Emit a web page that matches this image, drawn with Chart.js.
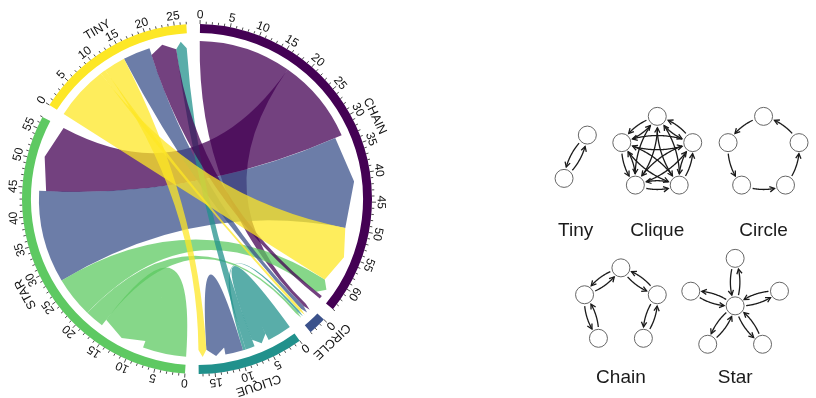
<!DOCTYPE html>
<html>
<head>
<meta charset="utf-8">
<script src="https://cdn.jsdelivr.net/npm/chart.js@4.4.1/dist/chart.umd.min.js"></script>
<style>
  html, body { margin: 0; padding: 0; background: #fff; }
  #wrap { position: relative; width: 816px; height: 398px; }
  #chord { position: absolute; left: 0; top: 0; }
  #graphs { position: absolute; left: 520px; top: 0; }
</style>
</head>
<body>
<div id="wrap">
  <canvas id="chord" width="394" height="398"></canvas>
  <canvas id="graphs" width="296" height="398"></canvas>
</div>
<script>
// chord groups
const groupNames = ['CHAIN', 'CIRCLE', 'CLIQUE', 'STAR', 'TINY'];
const groupTotals = [64, 3, 17.7, 57, 27];
const groupGap = 2.25;
const tickLabels = [
  [0, 5, 10, 15, 20, 25, 30, 35, 40, 45, 50, 55, 60],
  [0],
  [0, 5, 10, 15],
  [0, 5, 10, 15, 20, 25, 30, 35, 40, 45, 50, 55],
  [0, 5, 10, 15, 20, 25]
];

// ribbons: [group, from, to] at the flat end, [group, from, to] at the arrow end, colour index
const ribbonSource = [
  [0, 0, 17], [0, 17, 32.6], [3, 27.5, 44.5], [3, 0, 8], [3, 16.5, 20], [3, 20, 27.5],
  [2, 9.5, 12.8], [2, 0, 4.5], [4, 15, 20], [2, 7.3, 9], [0, 63.4, 64],
  [4, 0, 10], [4, 11, 15], [4, 10, 11], [2, 9, 9.5]
];
const ribbonTarget = [
  [1, 0.2, 0.8], [3, 44.5, 57], [0, 32.6, 50], [3, 8, 16.5], [1, 2.4, 2.8], [0, 60.6, 63.4],
  [2, 12.8, 16.2], [2, 4.5, 7.3], [1, 0.8, 1.5], [4, 24.8, 26.8], [4, 20, 24.8],
  [0, 50, 60.6], [2, 16.2, 17.7], [1, 1.5, 2], [1, 2, 2.4]
];
const ribbonHue = [0, 0, 1, 3, 3, 3, 1, 2, 1, 2, 0, 4, 4, 4, 2];

// small graphs on the right
const graphLabels = ['Tiny', 'Clique', 'Circle', 'Chain', 'Star'];
const graphNodeCount = [2, 5, 5, 5, 6];
const tinyEdges = [[0, 1], [1, 0]];
const cliqueEdges = [
  [0, 1], [0, 2], [0, 3], [0, 4], [1, 0], [1, 2], [1, 3], [1, 4], [2, 0], [2, 1],
  [2, 3], [2, 4], [3, 0], [3, 1], [3, 2], [3, 4], [4, 0], [4, 1], [4, 2], [4, 3]
];
const circleEdges = [[0, 4], [4, 3], [3, 2], [2, 1], [1, 0]];
const chainEdges = [[0, 4], [4, 0], [4, 3], [3, 4], [0, 1], [1, 0], [1, 2], [2, 1]];
const starEdges = [[0, 1], [1, 0], [0, 2], [2, 0], [0, 3], [3, 0], [0, 4], [4, 0], [0, 5], [5, 0]];
const graphEdges = [tinyEdges, cliqueEdges, circleEdges, chainEdges, starEdges];

const viridis = ['#440154', '#3b528b', '#21918c', '#5ec962', '#fde725'];
const ribbonFill = ['rgba(68,1,84,0.75)', 'rgba(59,82,139,0.75)', 'rgba(33,145,140,0.75)',
  'rgba(94,201,98,0.75)', 'rgba(253,231,37,0.75)'];

// layout of the small graphs, page pixels
const graphLayout = [
  { cx: 569, cy: 154.5, r: 26, turn: 28.7 },
  { cx: 656.5, cy: 152, r: 40, turn: 0 },
  { cx: 770.5, cy: 152, r: 40, turn: 0 },
  { cx: 617.5, cy: 312.5, r: 41, turn: 0 },
  { cx: 740, cy: 311.5, r: 50, turn: 0, hub: true }
];
const graphLabelY = [232, 232, 232, 387, 387];

// doughnut data: each group followed by a blank gap
const ringValues = [];
const ringColors = [];
groupTotals.forEach((v, i) => {
  ringValues.push(v, groupGap);
  ringColors.push(viridis[i], 'rgba(0,0,0,0)');
});

const chordPlugin = {
  id: 'chordRibbons',
  afterDatasetsDraw(chart) {
    const ctx = chart.ctx;
    const arcs = chart.getDatasetMeta(0).data;
    const cx = arcs[0].x, cy = arcs[0].y;
    const outer = arcs[0].outerRadius;
    const R = arcs[0].innerRadius - 8;
    const head = 7;

    const ang = (g, u) => {
      const a = arcs[g * 2];
      return a.startAngle + (a.endAngle - a.startAngle) * u / groupTotals[g];
    };
    const pt = (r, t) => [cx + r * Math.cos(t), cy + r * Math.sin(t)];

    ctx.save();
    ribbonSource.forEach((s, i) => {
      const t = ribbonTarget[i];
      const sa0 = ang(s[0], s[1]), sa1 = ang(s[0], s[2]);
      const ta0 = ang(t[0], t[1]), ta1 = ang(t[0], t[2]);
      const tm = (ta0 + ta1) / 2;
      ctx.beginPath();
      ctx.moveTo(...pt(R, sa0));
      ctx.arc(cx, cy, R, sa0, sa1);
      ctx.quadraticCurveTo(cx, cy, ...pt(R - head, ta0));
      ctx.lineTo(...pt(R, tm));
      ctx.lineTo(...pt(R - head, ta1));
      ctx.quadraticCurveTo(cx, cy, ...pt(R, sa0));
      ctx.closePath();
      ctx.fillStyle = ribbonFill[ribbonHue[i]];
      ctx.fill();
    });

    // ticks and labels
    ctx.strokeStyle = '#222';
    ctx.lineWidth = 0.8;
    ctx.fillStyle = '#111';
    ctx.textAlign = 'center';
    ctx.textBaseline = 'middle';
    groupTotals.forEach((tot, g) => {
      for (let u = 0; u <= Math.floor(tot); u++) {
        const a = ang(g, u);
        const len = u % 5 === 0 ? 4 : 2.5;
        ctx.beginPath();
        ctx.moveTo(...pt(outer, a));
        ctx.lineTo(...pt(outer + len, a));
        ctx.stroke();
      }
      ctx.font = '12px "Liberation Sans", Arial, sans-serif';
      tickLabels[g].forEach(v => {
        const a = ang(g, v);
        const [x, y] = pt(outer + 9, a);
        ctx.save();
        ctx.translate(x, y);
        ctx.rotate(a + Math.PI / 2);
        ctx.fillText(String(v), 0, 0);
        ctx.restore();
      });
      const am = ang(g, tot / 2);
      const [x, y] = pt(outer + 21, am);
      ctx.save();
      ctx.translate(x, y);
      ctx.rotate(am + Math.PI / 2);
      ctx.font = '12.5px "Liberation Sans", Arial, sans-serif';
      ctx.fillText(groupNames[g], 0, 0);
      ctx.restore();
    });
    ctx.restore();
  }
};

new Chart(document.getElementById('chord'), {
  type: 'doughnut',
  data: {
    labels: ringValues.map((v, i) => i % 2 === 0 ? groupNames[i / 2] : ''),
    datasets: [{
      data: ringValues,
      backgroundColor: ringColors,
      borderWidth: 0,
      hoverOffset: 0
    }]
  },
  options: {
    responsive: false,
    animation: false,
    events: [],
    rotation: 1,
    radius: 175,
    cutout: '94.9%',
    layout: { padding: 0 },
    plugins: { legend: { display: false }, tooltip: { enabled: false } }
  },
  plugins: [chordPlugin]
});

function nodePositions(i) {
  const L = graphLayout[i];
  const pts = [];
  if (L.hub) pts.push({ x: L.cx, y: L.cy });
  const n = graphNodeCount[i] - (L.hub ? 1 : 0);
  for (let k = 0; k < n; k++) {
    const a = (L.turn + k * 360 / n) * Math.PI / 180;
    pts.push({ x: L.cx + L.r * Math.sin(a), y: L.cy - L.r * Math.cos(a) });
  }
  return pts;
}

function drawArrow(ctx, a, b, rad, shrink) {
  const dx = b.x - a.x, dy = b.y - a.y;
  const c = { x: (a.x + b.x) / 2 + rad * dy, y: (a.y + b.y) / 2 - rad * dx };
  const pts = [];
  for (let s = 0; s <= 80; s++) {
    const t = s / 80;
    const p = {
      x: (1 - t) * (1 - t) * a.x + 2 * t * (1 - t) * c.x + t * t * b.x,
      y: (1 - t) * (1 - t) * a.y + 2 * t * (1 - t) * c.y + t * t * b.y
    };
    if (Math.hypot(p.x - a.x, p.y - a.y) >= shrink && Math.hypot(p.x - b.x, p.y - b.y) >= shrink) pts.push(p);
  }
  if (pts.length < 2) return;
  ctx.beginPath();
  ctx.moveTo(pts[0].x, pts[0].y);
  pts.forEach(p => ctx.lineTo(p.x, p.y));
  ctx.stroke();
  const e = pts[pts.length - 1], f = pts[pts.length - 3] || pts[0];
  const th = Math.atan2(e.y - f.y, e.x - f.x);
  ctx.beginPath();
  ctx.moveTo(e.x - 5.5 * Math.cos(th - 0.5), e.y - 5.5 * Math.sin(th - 0.5));
  ctx.lineTo(e.x, e.y);
  ctx.lineTo(e.x - 5.5 * Math.cos(th + 0.5), e.y - 5.5 * Math.sin(th + 0.5));
  ctx.stroke();
}

const edgePlugin = {
  id: 'graphEdges',
  beforeDatasetsDraw(chart) {
    const ctx = chart.ctx;
    ctx.save();
    ctx.strokeStyle = '#1a1a1a';
    ctx.lineWidth = 1.3;
    graphEdges.forEach((edges, i) => {
      const nodes = chart.getDatasetMeta(i).data;
      edges.forEach(([u, v]) => drawArrow(ctx, nodes[u], nodes[v], -0.2, 11));
    });
    ctx.restore();
  },
  afterDatasetsDraw(chart) {
    const ctx = chart.ctx;
    const xs = chart.scales.x, ys = chart.scales.y;
    ctx.save();
    ctx.fillStyle = '#1a1a1a';
    ctx.font = '19px "Liberation Sans", Arial, sans-serif';
    ctx.textAlign = 'center';
    ctx.textBaseline = 'middle';
    graphLabels.forEach((name, i) => {
      ctx.fillText(name, xs.getPixelForValue(graphLayout[i].cx), ys.getPixelForValue(graphLabelY[i]));
    });
    ctx.restore();
  }
};

new Chart(document.getElementById('graphs'), {
  type: 'scatter',
  data: {
    datasets: graphLabels.map((name, i) => ({
      label: name,
      data: nodePositions(i),
      pointRadius: 9,
      pointBackgroundColor: '#fff',
      pointBorderColor: '#666',
      pointBorderWidth: 1
    }))
  },
  options: {
    responsive: false,
    animation: false,
    events: [],
    layout: { padding: 0 },
    clip: false,
    scales: {
      x: { type: 'linear', min: 520, max: 816, display: false },
      y: { type: 'linear', min: 0, max: 398, reverse: true, display: false }
    },
    plugins: { legend: { display: false }, tooltip: { enabled: false } }
  },
  plugins: [edgePlugin]
});
</script>
</body>
</html>
